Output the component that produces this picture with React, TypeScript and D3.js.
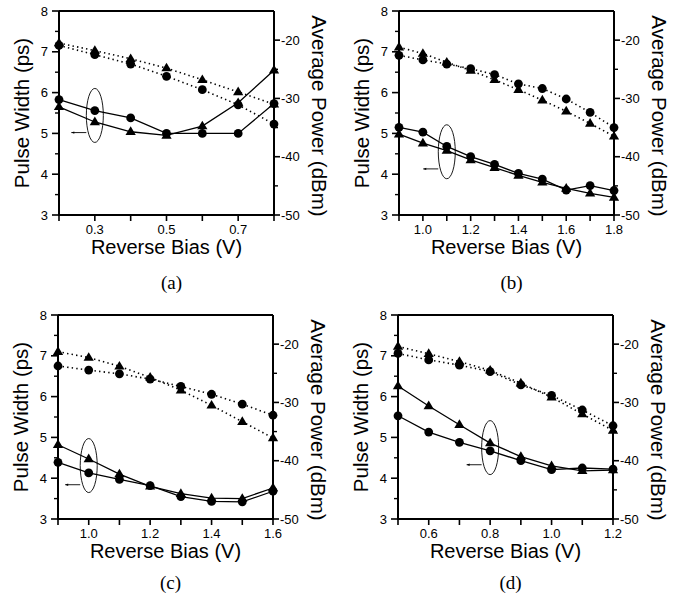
import React from "react";
import * as d3 from "d3";

// ---------- data ----------
const xA = [0.2, 0.3, 0.4, 0.5, 0.6, 0.7, 0.8];
const pwCircleA = [5.83, 5.56, 5.38, 5.0, 5.0, 5.0, 5.73];
const pwTriA = [5.65, 5.28, 5.04, 4.95, 5.18, 5.75, 6.55];
const pwrCircleA = [-20.9, -22.5, -24.1, -26.2, -28.5, -31.1, -34.4];
const pwrTriA = [-20.5, -21.8, -23.2, -24.8, -26.8, -28.9, -31.0];

const xB = [0.9, 1.0, 1.1, 1.2, 1.3, 1.4, 1.5, 1.6, 1.7, 1.8];
const pwCircleB = [5.15, 5.03, 4.68, 4.43, 4.24, 4.02, 3.88, 3.61, 3.72, 3.6];
const pwTriB = [4.98, 4.76, 4.58, 4.35, 4.16, 3.97, 3.8, 3.65, 3.53, 3.43];
const pwrCircleB = [-22.6, -23.4, -24.1, -24.9, -25.9, -27.5, -28.3, -30.1, -32.4, -35.0];
const pwrTriB = [-21.2, -22.3, -23.8, -25.2, -26.8, -28.5, -30.3, -32.2, -34.3, -36.5];

const xC = [0.9, 1.0, 1.1, 1.2, 1.3, 1.4, 1.5, 1.6];
const pwCircleC = [4.39, 4.13, 3.97, 3.82, 3.55, 3.43, 3.42, 3.68];
const pwTriC = [4.82, 4.47, 4.1, 3.8, 3.62, 3.51, 3.5, 3.76];
const pwrCircleC = [-23.75, -24.45, -25.1, -26.0, -27.25, -28.6, -30.3, -32.2];
const pwrTriC = [-21.3, -22.3, -23.8, -25.7, -27.9, -30.5, -33.3, -36.1];

const xD = [0.5, 0.6, 0.7, 0.8, 0.9, 1.0, 1.1, 1.2];
const pwCircleD = [5.53, 5.13, 4.88, 4.67, 4.43, 4.21, 4.25, 4.22];
const pwTriD = [6.26, 5.77, 5.31, 4.86, 4.53, 4.3, 4.18, 4.2];
const pwrCircleD = [-21.6, -22.7, -23.6, -24.7, -27.0, -28.8, -31.3, -34.0];
const pwrTriD = [-20.4, -21.65, -23.0, -24.5, -26.7, -29.1, -32.0, -34.8];

const xDomainA = [0.2, 0.8];
const xDomainB = [0.9, 1.8];
const xDomainC = [0.9, 1.6];
const xDomainD = [0.5, 1.2];
const xLabelsA = [0.3, 0.5, 0.7];
const xLabelsB = [1.0, 1.2, 1.4, 1.6, 1.8];
const xLabelsC = [1.0, 1.2, 1.4, 1.6];
const xLabelsD = [0.6, 0.8, 1.0, 1.2];
const xTicksA = [0.2, 0.3, 0.4, 0.5, 0.6, 0.7, 0.8];
const xTicksB = [0.9, 1.0, 1.1, 1.2, 1.3, 1.4, 1.5, 1.6, 1.7, 1.8];
const xTicksC = [0.9, 1.0, 1.1, 1.2, 1.3, 1.4, 1.5, 1.6];
const xTicksD = [0.5, 0.6, 0.7, 0.8, 0.9, 1.0, 1.1, 1.2];

const pwTicks = [3, 4, 5, 6, 7, 8];
const pwMinor = [3.5, 4.5, 5.5, 6.5, 7.5];
const pwrTicks = [-20, -30, -40, -50];
const pwrMinor = [-25, -35, -45];

// ellipse annotation: [x, ellipse center pw, arrow pw]
const noteA = [0.3, 5.44, 5.02];
const noteB = [1.1, 4.55, 4.13];
const noteC = [1.0, 4.31, 3.84];
const noteD = [0.8, 4.75, 4.33];

const captions = ["(a)", "(b)", "(c)", "(d)"];

// ---------- layout ----------
const W = 215;
const H = 204;
const SANS = "'Liberation Sans', Arial, sans-serif";
const SERIF = "'Liberation Serif', 'Times New Roman', serif";

type PanelProps = {
  left: number;
  top: number;
  x: number[];
  pwC: number[];
  pwT: number[];
  pwrC: number[];
  pwrT: number[];
  xDomain: number[];
  xLabels: number[];
  xTicks: number[];
  note: number[];
  caption: string;
  capDy: number;
};

function Circle({ cx, cy }: { cx: number; cy: number }) {
  return <circle cx={cx} cy={cy} r={4.4} fill="#000" />;
}
function Tri({ cx, cy }: { cx: number; cy: number }) {
  const s = 5.4;
  return (
    <path
      d={`M${cx},${cy - s} L${cx + s * 0.95},${cy + s * 0.6} L${cx - s * 0.95},${cy + s * 0.6} Z`}
      fill="#000"
    />
  );
}

function Panel(p: PanelProps) {
  const xs = d3.scaleLinear().domain(p.xDomain).range([0, W]);
  const yl = d3.scaleLinear().domain([3, 8]).range([H, 0]);
  const yr = d3.scaleLinear().domain([-50, -15]).range([H, 0]);
  const line = (ys: number[], sc: d3.ScaleLinear<number, number>) =>
    d3.line<number>().x((_, i) => xs(p.x[i])).y((v) => sc(v))(ys) || "";
  const fmt = d3.format(".1f");
  const [nx, ny, ay] = p.note;
  const ecx = xs(nx);
  const ecy = yl(ny);
  const rx = 8.5;
  const ry = 27;
  const ax1 = ecx - rx - 15;
  const ax2 = ecx - rx;
  const aY = yl(ay);
  return (
    <g transform={`translate(${p.left},${p.top})`}>
      {/* dotted power lines */}
      <path d={line(p.pwrC, yr)} fill="none" stroke="#000" strokeWidth={1.6} strokeDasharray="1.4 3.2" />
      <path d={line(p.pwrT, yr)} fill="none" stroke="#000" strokeWidth={1.6} strokeDasharray="1.4 3.2" />
      {/* solid pulse width lines */}
      <path d={line(p.pwC, yl)} fill="none" stroke="#000" strokeWidth={1.3} />
      <path d={line(p.pwT, yl)} fill="none" stroke="#000" strokeWidth={1.3} />
      {p.x.map((xv, i) => (
        <g key={i}>
          <Circle cx={xs(xv)} cy={yr(p.pwrC[i])} />
          <Tri cx={xs(xv)} cy={yr(p.pwrT[i])} />
          <Circle cx={xs(xv)} cy={yl(p.pwC[i])} />
          <Tri cx={xs(xv)} cy={yl(p.pwT[i])} />
        </g>
      ))}
      {/* annotation */}
      <ellipse cx={ecx} cy={ecy} rx={rx} ry={ry} fill="none" stroke="#000" strokeWidth={0.9} />
      <line x1={ax1} y1={aY} x2={ax2} y2={aY} stroke="#000" strokeWidth={0.9} />
      <path d={`M${ax1},${aY} l3,-1.2 l0,2.4 Z`} fill="#000" />
      {/* frame */}
      <line x1={0} y1={0} x2={W} y2={0} stroke="#000" strokeWidth={2} />
      <line x1={0} y1={0} x2={0} y2={H} stroke="#000" strokeWidth={2} />
      <line x1={W} y1={0} x2={W} y2={H} stroke="#000" strokeWidth={2} />
      <line x1={-1} y1={H} x2={W + 1} y2={H} stroke="#000" strokeWidth={2} />
      {/* left ticks */}
      {pwTicks.map((t) => (
        <g key={`l${t}`}>
          <line x1={-7} x2={0} y1={yl(t)} y2={yl(t)} stroke="#000" strokeWidth={1.6} />
          <text x={-11} y={yl(t) + 4.6} textAnchor="end" fontSize={13} fontFamily={SANS}>
            {t}
          </text>
        </g>
      ))}
      {pwMinor.map((t) => (
        <line key={`lm${t}`} x1={-4} x2={0} y1={yl(t)} y2={yl(t)} stroke="#000" strokeWidth={1.4} />
      ))}
      {/* right ticks */}
      {pwrTicks.map((t) => (
        <g key={`r${t}`}>
          <line x1={W} x2={W + 6} y1={yr(t)} y2={yr(t)} stroke="#000" strokeWidth={1.6} />
          <text x={W + 7} y={yr(t) + 4.6} textAnchor="start" fontSize={13} fontFamily={SANS}>
            {t}
          </text>
        </g>
      ))}
      {pwrMinor.map((t) => (
        <line key={`rm${t}`} x1={W} x2={W + 4} y1={yr(t)} y2={yr(t)} stroke="#000" strokeWidth={1.4} />
      ))}
      {/* bottom ticks */}
      {p.xTicks.map((t) => (
        <line key={`b${t}`} x1={xs(t)} x2={xs(t)} y1={H} y2={H + 6} stroke="#000" strokeWidth={1.6} />
      ))}
      {p.xLabels.map((t) => (
        <text key={`bl${t}`} x={xs(t)} y={H + 19} textAnchor="middle" fontSize={13} fontFamily={SANS}>
          {fmt(t)}
        </text>
      ))}
      {/* titles */}
      <text x={W / 2} y={H + 39} textAnchor="middle" fontSize={20} fontFamily={SANS}>
        Reverse Bias (V)
      </text>
      <text
        transform={`translate(-30,${H / 2}) rotate(-90)`}
        textAnchor="middle"
        fontSize={20.5}
        fontFamily={SANS}
      >
        Pulse Width (ps)
      </text>
      <text
        transform={`translate(${W + 38},${H / 2 + 3}) rotate(90)`}
        textAnchor="middle"
        fontSize={20.5}
        fontFamily={SANS}
      >
        Average Power (dBm)
      </text>
      <text x={W / 2 + 5} y={H + p.capDy} textAnchor="middle" fontSize={19} fontFamily={SERIF}>
        {p.caption}
      </text>
    </g>
  );
}

export default function App() {
  return (
    <svg
      width={680}
      height={606}
      style={{ position: "absolute", left: 0, top: 0, background: "#fff" }}
    >
      <rect width={680} height={606} fill="#fff" />
      <Panel left={59} top={11} x={xA} pwC={pwCircleA} pwT={pwTriA} pwrC={pwrCircleA} pwrT={pwrTriA}
        xDomain={xDomainA} xLabels={xLabelsA} xTicks={xTicksA} note={noteA} caption={captions[0]} capDy={74} />
      <Panel left={399} top={11} x={xB} pwC={pwCircleB} pwT={pwTriB} pwrC={pwrCircleB} pwrT={pwrTriB}
        xDomain={xDomainB} xLabels={xLabelsB} xTicks={xTicksB} note={noteB} caption={captions[1]} capDy={74} />
      <Panel left={58} top={315} x={xC} pwC={pwCircleC} pwT={pwTriC} pwrC={pwrCircleC} pwrT={pwrTriC}
        xDomain={xDomainC} xLabels={xLabelsC} xTicks={xTicksC} note={noteC} caption={captions[2]} capDy={70} />
      <Panel left={398} top={315} x={xD} pwC={pwCircleD} pwT={pwTriD} pwrC={pwrCircleD} pwrT={pwrTriD}
        xDomain={xDomainD} xLabels={xLabelsD} xTicks={xTicksD} note={noteD} caption={captions[3]} capDy={70} />
    </svg>
  );
}
